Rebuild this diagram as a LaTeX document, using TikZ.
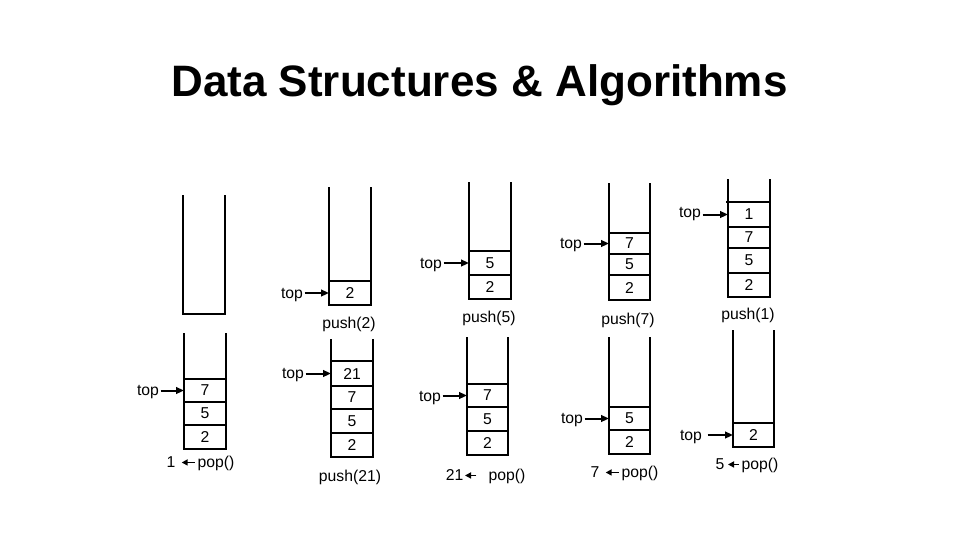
\documentclass[tikz,border=0pt]{standalone}
\usepackage{fontspec}
\setmainfont{Liberation Sans}
\usetikzlibrary{arrows.meta}
\tikzset{
  tubeline/.style={line width=0.8pt},
  cellbox/.style={draw, line width=0.8pt, inner sep=0pt, outer sep=0pt},
  lbl/.style={inner sep=1pt, font=\fontsize{11.8}{13}\selectfont},
  toparrow/.style={line width=1.5pt, -{Triangle[length=6pt,width=5pt]}},
  poparrow/.style={line width=1.2pt, shorten >=3.5pt, shorten <=1pt, -{Triangle[length=4.5pt,width=4.5pt]}},
}
\newcommand\tube[4]{\draw[tubeline] (#1,#3) -- (#1,#4) -- (#2,#4) -- (#2,#3);}
\newcommand\cel[6]{\node[cellbox, lbl, inner sep=0pt, minimum width={(#3-#2)*0.75pt}, minimum height={(#5-#4)*0.75pt}] (#1) at ({(#2+#3)/2},{(#4+#5)/2}) {#6};}
\begin{document}
\begin{tikzpicture}[x=0.75pt,y=-0.75pt]
\useasboundingbox (0,0) rectangle (960,540);
\node[anchor=base, inner sep=0pt, font=\fontsize{33}{40}\selectfont\bfseries] (title) at (479.5,96.5) {Data Structures \& Algorithms};

% stack 1 (empty)
\tube{183}{225}{195}{314}

% stack 2: push(2)
\tube{329}{371}{187}{305}
\cel{s2a}{329}{371}{281}{305}{2}
\node[lbl, anchor=base] (t2) at (292,298) {top};
\draw[toparrow] (s2a.west -| t2.east) -- (s2a.west);
\node[lbl] (p2) at (349,324) {push(2)};

% stack 3: push(5)
\tube{469}{511}{182}{299}
\cel{s3a}{469}{511}{251}{275}{5}
\cel{s3b}{469}{511}{275}{299}{2}
\node[lbl, anchor=base] (t3) at (431,268) {top};
\draw[toparrow] (s3a.west -| t3.east) -- (s3a.west);
\node[lbl] (p3) at (489,318) {push(5)};

% stack 4: push(7)
\tube{609}{650}{183}{300}
\cel{s4a}{609}{650}{233}{254}{7}
\cel{s4b}{609}{650}{254}{275}{5}
\cel{s4c}{609}{650}{275}{300}{2}
\node[lbl, anchor=base] (t4) at (571,248) {top};
\draw[toparrow] (s4a.west -| t4.east) -- (s4a.west);
\node[lbl] (p4) at (628,320) {push(7)};

% stack 5: push(1)
\tube{728}{770}{179}{297}
\cel{s5a}{728}{770}{202}{227}{1}
\cel{s5b}{728}{770}{227}{248}{7}
\cel{s5c}{728}{770}{248}{273}{5}
\cel{s5d}{728}{770}{273}{297}{2}
\draw[tubeline] (726,202) -- (s5a.north west);
\node[lbl, anchor=base] (t5) at (690,217) {top};
\draw[toparrow] (s5a.west -| t5.east) -- (s5a.west);
\node[lbl] (p5) at (748,315) {push(1)};

% stack 6: 1 <- pop()
\tube{184}{226}{333}{449}
\cel{s6a}{184}{226}{379}{402}{7}
\cel{s6b}{184}{226}{402}{425}{5}
\cel{s6c}{184}{226}{425}{449}{2}
\node[lbl, anchor=base] (t6) at (148,395) {top};
\draw[toparrow] (s6a.west -| t6.east) -- (s6a.west);
\node[lbl, anchor=base west] (o6) at (196,467) {pop()};
\node[lbl, anchor=base east] (v6) at (177,467) {1};
\draw[poparrow] ([yshift=3.4pt]o6.base west) -- ([yshift=3.4pt]v6.base east);

% stack 7: push(21)
\tube{331}{373}{339}{457}
\cel{s7a}{331}{373}{361}{386}{21}
\cel{s7b}{331}{373}{386}{409}{7}
\cel{s7c}{331}{373}{409}{433}{5}
\cel{s7d}{331}{373}{433}{457}{2}
\node[lbl, anchor=base] (t7) at (293,378) {top};
\draw[toparrow] (s7a.west -| t7.east) -- (s7a.west);
\node[lbl] (p7) at (350,477) {push(21)};

% stack 8: 21 <- pop()
\tube{467}{508}{337}{455}
\cel{s8a}{467}{508}{384}{407}{7}
\cel{s8b}{467}{508}{407}{431}{5}
\cel{s8c}{467}{508}{431}{455}{2}
\node[lbl, anchor=base] (t8) at (430,401) {top};
\draw[toparrow] (s8a.west -| t8.east) -- (s8a.west);
\node[lbl, anchor=base west] (o8) at (487,480) {pop()};
\node[lbl, anchor=base east] (v8) at (465,480) {21};
\draw[poparrow, shorten >=0pt] ([xshift=-7pt,yshift=3.4pt]o8.base west) -- ([yshift=3.4pt]v8.base east);

% stack 9: 7 <- pop()
\tube{609}{650}{337}{454}
\cel{s9a}{609}{650}{407}{430}{5}
\cel{s9b}{609}{650}{430}{454}{2}
\node[lbl, anchor=base] (t9) at (572,423) {top};
\draw[toparrow] (s9a.west -| t9.east) -- (s9a.west);
\node[lbl, anchor=base west] (o9) at (620,477) {pop()};
\node[lbl, anchor=base east] (v9) at (601,477) {7};
\draw[poparrow] ([yshift=3.4pt]o9.base west) -- ([yshift=3.4pt]v9.base east);

% stack 10: 5 <- pop()
\tube{733}{774}{330}{447}
\cel{s10a}{733}{774}{423}{447}{2}
\node[lbl, anchor=base] (t10) at (691,440) {top};
\draw[toparrow] ([xshift=3pt]s10a.west -| t10.east) -- (s10a.west);
\node[lbl, anchor=base west] (o10) at (740,469) {pop()};
\node[lbl, anchor=base east] (v10) at (726,469) {5};
\draw[poparrow, shorten >=1.5pt] ([yshift=3.4pt]o10.base west) -- ([yshift=3.4pt]v10.base east);
\end{tikzpicture}
\end{document}
